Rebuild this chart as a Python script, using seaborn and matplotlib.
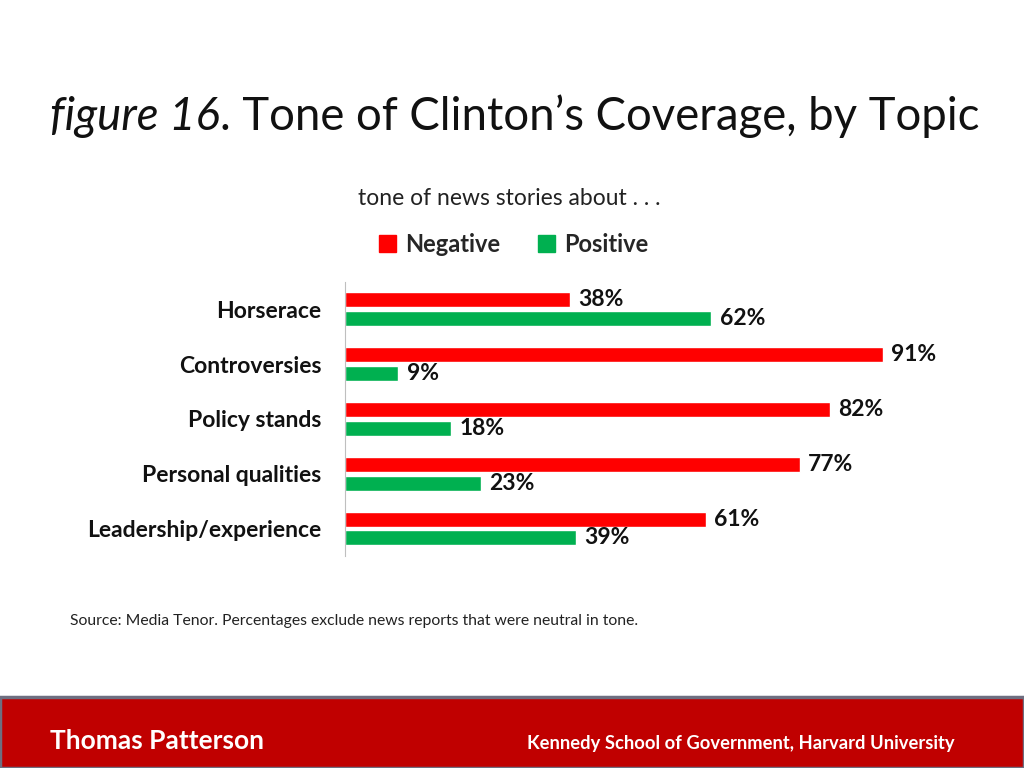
import numpy as np
import pandas as pd
from matplotlib import pyplot as plt
from matplotlib.patches import Rectangle
import seaborn as sns

# Data
topics = ['Horserace', 'Controversies', 'Policy stands', 'Personal qualities', 'Leadership/experience']
negative = [38, 91, 82, 77, 61]
positive = [62, 9, 18, 23, 39]
tones = ['Negative', 'Positive']
colors = ['#FF0000', '#00B050']

df = pd.DataFrame({
    'topic': topics * 2,
    'tone': ['Negative'] * len(topics) + ['Positive'] * len(topics),
    'pct': negative + positive,
})

sns.set_style("white")
plt.rcParams['font.family'] = ['Lato', 'DejaVu Sans']

fig = plt.figure(figsize=(10.24, 7.68), dpi=100)
ax = fig.add_axes([0.337, 0.276, 0.577, 0.357])

sns.barplot(data=df, y='topic', x='pct', hue='tone', hue_order=tones,
            palette=colors, orient='h', width=0.68, gap=0.2,
            saturation=1, ax=ax, legend=False)

for cont in ax.containers:
    ax.bar_label(cont, labels=[f'{v:.0f}%' for v in cont.datavalues],
                 padding=6, fontsize=16.5, fontweight='bold', color='#111111')

ax.set_xlim(0, 100)
ax.set_ylim(4.5, -0.5)
ax.set_xlabel('')
ax.set_ylabel('')
ax.set_xticks([])
ax.tick_params(axis='y', length=0, pad=17)
for lab in ax.get_yticklabels():
    lab.set_fontweight('bold')
    lab.set_fontsize(16.5)
    lab.set_color('#111111')
sns.despine(ax=ax, top=True, right=True, bottom=True)
ax.spines['left'].set_color('#BFBFBF')

# Legend
handles = [Rectangle((0, 0), 1, 1, color=c) for c in colors]
fig.legend(handles, tones, loc='center', bbox_to_anchor=(0.502, 0.682), ncol=2,
           frameon=False, handlelength=0.7, handleheight=0.7, handletextpad=0.4,
           columnspacing=1.6, prop={'weight': 'bold', 'size': 17})

# Subtitle
fig.text(0.497, 0.742, 'tone of news stories about . . .', ha='center', va='center',
         fontsize=16.5, color='#222222')

# Title: italic part followed by regular part
fig.canvas.draw()
renderer = fig.canvas.get_renderer()
t1 = fig.text(0.049, 0.831, 'figure 16', fontsize=32.8, style='italic',
              ha='left', va='baseline', color='#111111')
bb = t1.get_window_extent(renderer=renderer)
x2 = bb.x1 / fig.bbox.width
fig.text(x2, 0.831, '. Tone of Clinton\u2019s Coverage, by Topic', fontsize=32.8,
         ha='left', va='baseline', color='#111111')

# Source
fig.text(0.068, 0.191, 'Source: Media Tenor. Percentages exclude news reports that were neutral in tone.',
         fontsize=11.3, va='center', color='#222222')

# Footer band
fig.patches.append(Rectangle((0, 0), 1, 0.092, transform=fig.transFigure,
                             facecolor='#C00000', edgecolor='#6E6E80', linewidth=2.5, zorder=0))
fig.text(0.049, 0.035, 'Thomas Patterson', fontsize=19, fontweight='bold',
         color='white', va='center')
fig.text(0.515, 0.032, 'Kennedy School of Government, Harvard University', fontsize=13.2,
         fontweight='bold', color='white', va='center')

fig.savefig('out.png', dpi=100)
